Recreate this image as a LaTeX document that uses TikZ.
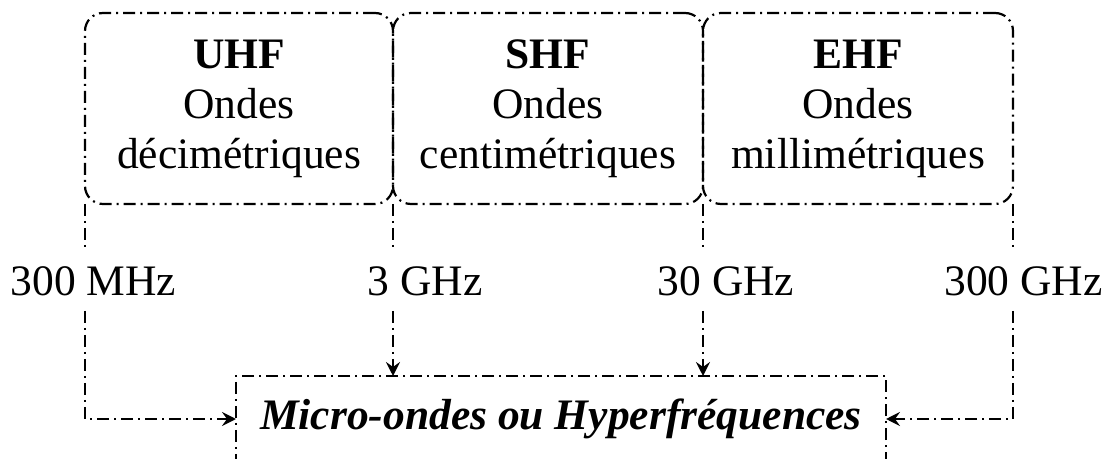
\documentclass[tikz,border=0pt]{standalone}
\usepackage{fontspec}
\setmainfont{Liberation Serif}
\usetikzlibrary{arrows.meta}

\begin{document}
\begin{tikzpicture}[x=1pt,y=1pt,>={Stealth[length=14pt,width=14pt,inset=5pt]},
        font=\fontsize{43.5}{50}\selectfont,
        dashdot/.style={line width=2.2pt,dash pattern=on 12pt off 5pt on 2pt off 5pt},
        band/.style={draw,dashdot,rounded corners=18pt,minimum height=191pt,align=center,inner sep=0pt,outer sep=0pt},
        freq/.style={inner sep=0pt,outer sep=0pt,text height=48pt,text depth=15pt,anchor=base},
        conn/.style={dashdot}]
            % page size
            \useasboundingbox (0,0) rectangle (1106,458);
            \clip (0,0) rectangle (1106,458);

            % the three bands
            \node[band,minimum width=308pt] (uhf) at (239,349.5) {\textbf{UHF}\\Ondes\\décimétriques};
            \node[band,minimum width=310pt] (shf) at (548,349.5) {\textbf{SHF}\\Ondes\\centimétriques};
            \node[band,minimum width=310pt] (ehf) at (858,349.5) {\textbf{EHF}\\Ondes\\millimétriques};

            % frequency limits
            \node[freq] (f300M) at (93.5,162) {300 MHz};
            \node[freq] (f3G) at (425,162) {3 GHz};
            \node[freq] (f30G) at (726,162) {30 GHz};
            \node[freq] (f300G) at (1023.5,162) {300 GHz};

            % micro-ondes box
            \node[draw,dashdot,minimum width=650pt,minimum height=86pt,inner sep=0pt,outer sep=0pt] (micro) at (561,39)
                {\textbf{\textit{Micro-ondes ou Hyperfréquences}}};

            % lines down to the box
            \draw[conn] (uhf.south west) -- (uhf.south west |- f300M.north);
            \draw[conn,->] (uhf.south west |- f300M.south) |- (micro.west);
            \draw[conn] (uhf.south east) -- (uhf.south east |- f3G.north);
            \draw[conn,->] (uhf.south east |- f3G.south) -- (uhf.south east |- micro.north);
            \draw[conn] (shf.south east) -- (shf.south east |- f30G.north);
            \draw[conn,->] (shf.south east |- f30G.south) -- (shf.south east |- micro.north);
            \draw[conn] (ehf.south east) -- (ehf.south east |- f300G.north);
            \draw[conn,->] (ehf.south east |- f300G.south) |- (micro.east);
\end{tikzpicture}
\end{document}
